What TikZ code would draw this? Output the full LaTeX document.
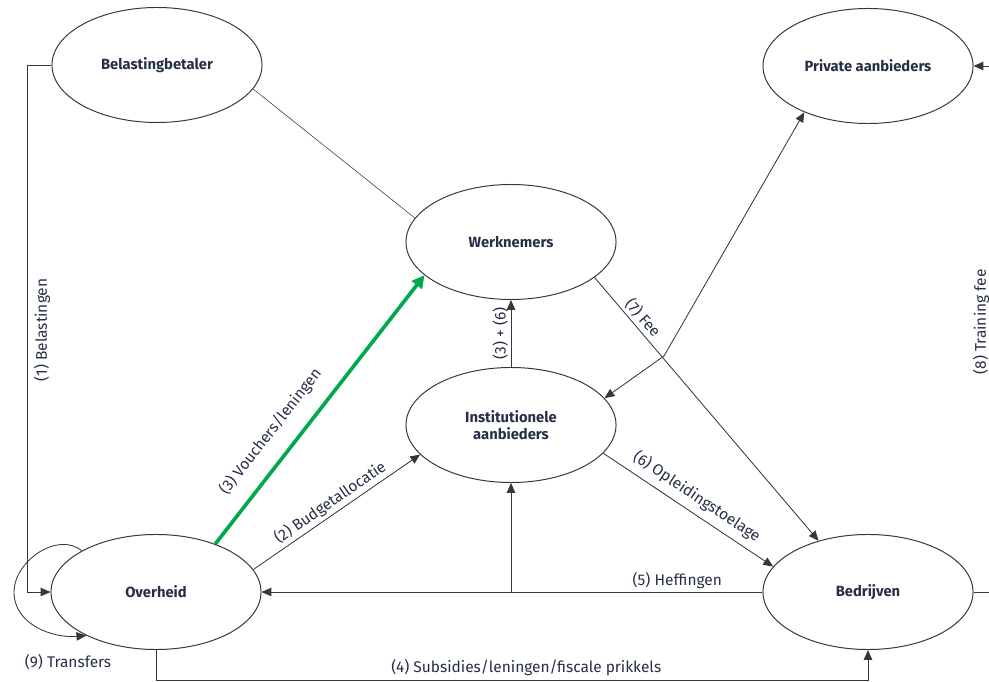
\documentclass[tikz,border=0pt]{standalone}
\usepackage{fontspec}
\setmainfont{Fira Sans}
\usetikzlibrary{arrows.meta,shapes.geometric}
\definecolor{lbl}{RGB}{38,46,72}
\definecolor{lijn}{RGB}{55,55,55}
\definecolor{voucher}{RGB}{0,168,80}
\begin{document}
\begin{tikzpicture}[x=0.025cm,y=-0.025cm,
  actor/.style={ellipse,draw=lijn,line width=0.7pt,minimum width=5.25cm,minimum height=2.875cm,font=\bfseries\fontsize{10.5}{12.5}\selectfont,text=lbl,align=center},
  flow/.style={draw=lijn,line width=0.6pt,-{Triangle[length=7pt,width=6pt]}},
  lab/.style={font=\fontsize{11}{13}\selectfont,text=lbl,inner sep=2pt}]
\useasboundingbox (0,0) rectangle (989,682);
\node[actor] (belast) at (157,65) {Belastingbetaler};
\node[actor] (priv) at (868,66) {Private aanbieders};
\node[actor] (werk) at (511,242) {Werknemers};
\node[actor] (inst) at (511,425) {Institutionele\\aanbieders};
\node[actor] (overheid) at (156,592) {Overheid};
\node[actor] (bedr) at (868,592) {Bedrijven};
\coordinate (kruis) at (664,356);
\coordinate (heff) at (inst.south |- bedr.west);
\draw[lijn,line width=0.4pt] (belast.-14) -- (werk.166);
\draw[flow] (belast.west) -- (27,65) |- (overheid.west) node[lab,rotate=90] at (42,330) {(1) Belastingen};
\draw[flow] (overheid.151) to[out=140,in=90] (14,592) to[out=-90,in=185] (overheid.212);
\node[lab] (transf) at (68,662) {(9) Transfers};
\draw[flow] (overheid.south) -- (156,680) -| node[lab,pos=0.26,above=1pt] {(4) Subsidies/leningen/fiscale prikkels} (bedr.south);
\draw[flow] (bedr.west) -- node[lab,pos=0.17,above] {(5) Heffingen} (overheid.east);
\draw[flow] (heff) -- (inst.south);
\draw[flow] (overheid.13) -- node[lab,sloped,above,pos=0.5] {(2) Budgetallocatie} (inst.198);
\draw[voucher,line width=2.6pt,-{Triangle[length=9pt,width=9pt]}] (overheid.39) -- node[lab,sloped,above=9pt,pos=0.36] {(3) Vouchers/leningen} (werk.201);
\draw[flow] (inst.north) -- node[lab,sloped,above] {(3) + (6)} (werk.south);
\draw[flow] (inst.-17) -- node[lab,sloped,above=3pt,pos=0.5] {(6) Opleidingstoelage} (bedr.165);
\draw[flow] (werk.-23) -- node[lab,sloped,above,pos=0.18] {(7) Fee} (bedr.134);
\draw[flow] (kruis) -- (priv.216);
\draw[flow] (kruis) -- (inst.16);
\draw[flow] (bedr.east) -- (1002,592) |- (priv.east) node[lab,rotate=90] at (981,322) {(8) Training fee};
\end{tikzpicture}
\end{document}
